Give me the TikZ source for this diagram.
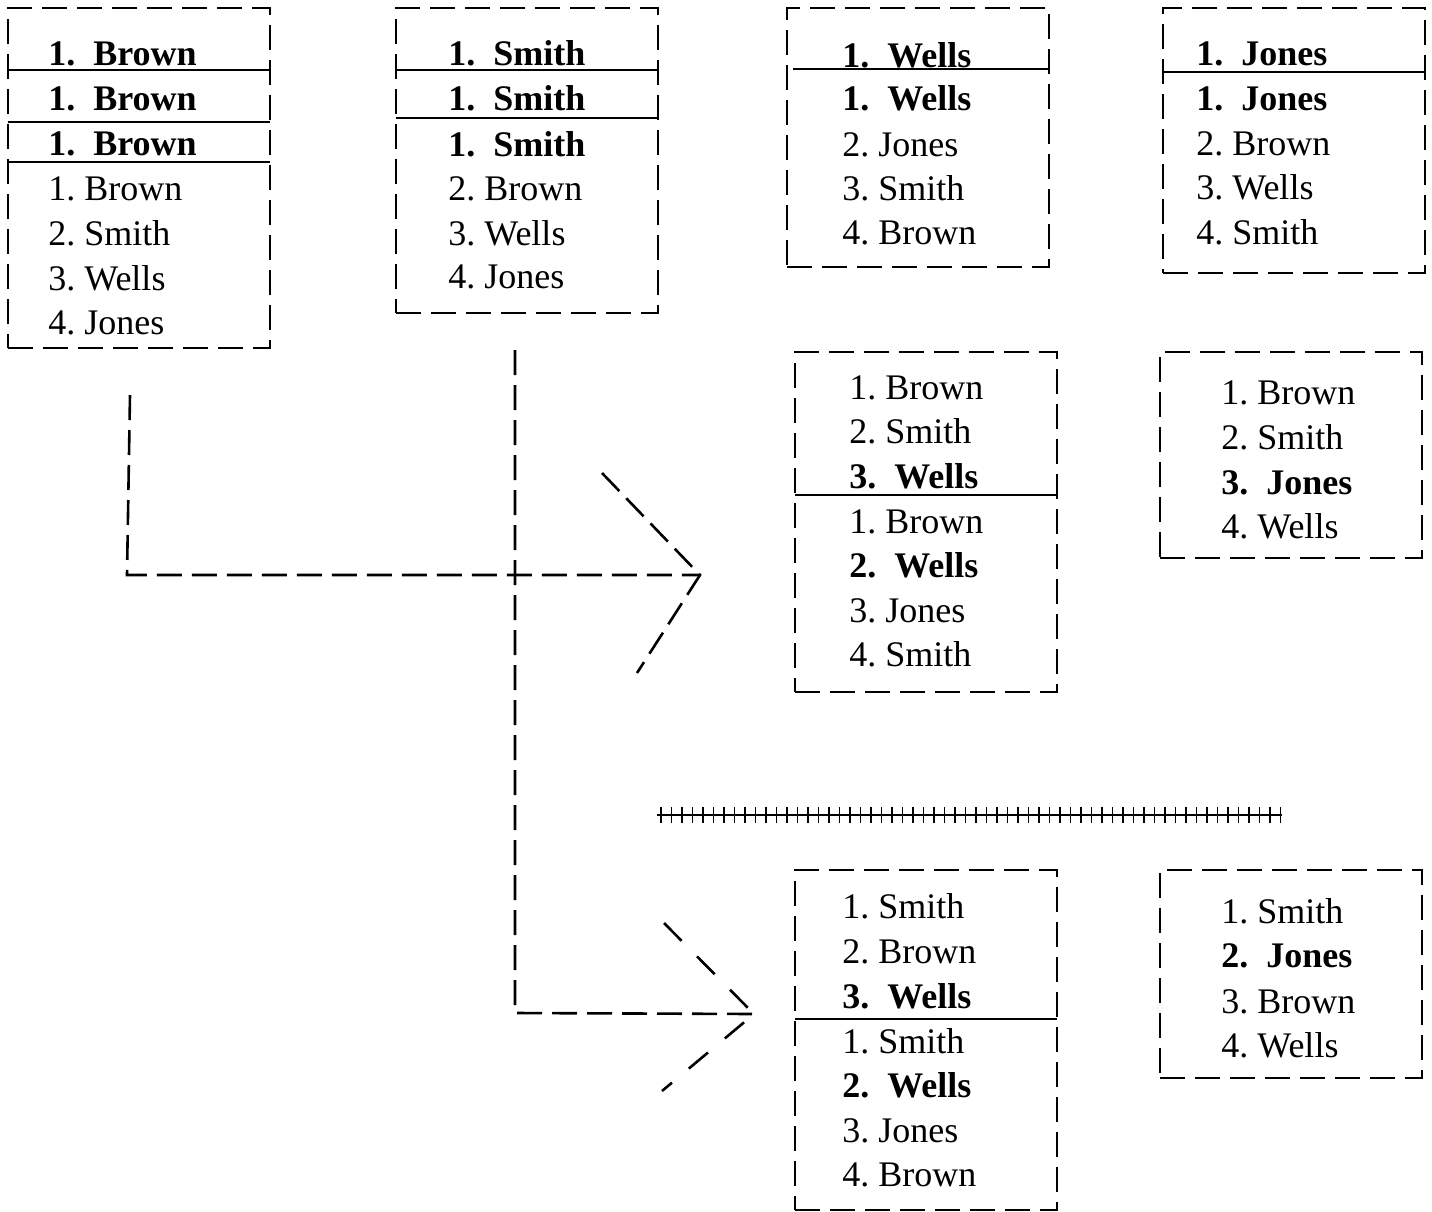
\documentclass[tikz,border=0pt]{standalone}
\usepackage{fontspec}
\setmainfont{Liberation Serif}
\newfontfamily\rankfont{Liberation Serif}
\usetikzlibrary{calc}
\tikzset {
    rank box/.style = {
        draw, rectangle, anchor = north west,
        inner sep = 0pt, outer sep = 0pt,
        minimum width = 131pt,
        line width = 1.3pt,
        dash pattern = on 12.5pt off 5pt
    },
    rank/.style = {
        anchor = base west, inner sep = 0pt,
        font = \rankfont\fontsize{18}{22}\selectfont\frenchspacing
    },
    split/.style = {line width = 1.2pt},
    flow/.style = {line width = 1.3pt, dash pattern = on 12.5pt off 5pt},
    sparse flow/.style = {line width = 1.3pt, dash pattern = on 12.5pt off 11pt},
    rule/.style = {line width = 1.2pt},
    rule tick/.style = {line width = 0.9pt}
}

\begin{document}
\begin{tikzpicture}[x = 0.5pt, y = -0.5pt]
    \useasboundingbox (0, 0) rectangle (1432, 1212);
    % boxes
    \node (b1) [rank box, minimum height = 170pt] at (8, 8) {};
    \node (b2) [rank box, minimum height = 152.5pt] at (396, 8) {};
    \node (b3) [rank box, minimum height = 129.5pt] at (787, 8) {};
    \node (b4) [rank box, minimum height = 132.5pt] at (1163, 8) {};
    \node (b5) [rank box, minimum height = 170pt] at (795, 352) {};
    \node (b6) [rank box, minimum height = 103pt] at (1160, 352) {};
    \node (b7) [rank box, minimum height = 170pt] at (795, 870) {};
    \node (b8) [rank box, minimum height = 104pt] at (1160, 870) {};
    % rankings
    \foreach \y/\t [count = \i] in {65/\textbf{1.~ Brown}, 110/\textbf{1.~ Brown},
            155/\textbf{1.~ Brown}, 200/1. Brown, 245/2. Smith, 290/3. Wells, 334/4. Jones}
        \node (b1-\i) [rank] at (48, \y) {\t};
    \foreach \y/\t [count = \i] in {65/\textbf{1.~ Smith}, 110/\textbf{1.~ Smith},
            156/\textbf{1.~ Smith}, 200/2. Brown, 245/3. Wells, 288/4. Jones}
        \node (b2-\i) [rank] at (448, \y) {\t};
    \foreach \y/\t [count = \i] in {67/\textbf{1.~ Wells}, 110/\textbf{1.~ Wells},
            156/2. Jones, 200/3. Smith, 244/4. Brown}
        \node (b3-\i) [rank] at (842, \y) {\t};
    \foreach \y/\t [count = \i] in {65/\textbf{1.~ Jones}, 110/\textbf{1.~ Jones},
            155/2. Brown, 199/3. Wells, 244/4. Smith}
        \node (b4-\i) [rank] at (1196, \y) {\t};
    \foreach \y/\t [count = \i] in {399/1. Brown, 443/2. Smith, 488/\textbf{3.~ Wells},
            533/1. Brown, 577/\textbf{2.~ Wells}, 622/3. Jones, 666/4. Smith}
        \node (b5-\i) [rank] at (849, \y) {\t};
    \foreach \y/\t [count = \i] in {404/1. Brown, 449/2. Smith, 494/\textbf{3.~ Jones},
            538/4. Wells}
        \node (b6-\i) [rank] at (1221, \y) {\t};
    \foreach \y/\t [count = \i] in {918/1. Smith, 963/2. Brown, 1008/\textbf{3.~ Wells},
            1053/1. Smith, 1097/\textbf{2.~ Wells}, 1142/3. Jones, 1186/4. Brown}
        \node (b7-\i) [rank] at (842, \y) {\t};
    \foreach \y/\t [count = \i] in {923/1. Smith, 967/\textbf{2.~ Jones},
            1013/3. Brown, 1057/4. Wells}
        \node (b8-\i) [rank] at (1221, \y) {\t};
    % splits
    \draw [split] (b1.north west) ++(0, 62) -- ++(262, 0);
    \draw [split] (b1.north west) ++(0, 114) -- ++(262, 0);
    \draw [split] (b1.north west) ++(0, 154) -- ++(262, 0);
    \draw [split] (b2.north west) ++(0, 62) -- ++(262, 0);
    \draw [split] (b2.north west) ++(0, 110) -- ++(262, 0);
    \draw [split] (b3.north west) ++(6, 61) -- ++(256, 0);
    \draw [split] (b4.north west) ++(0, 64) -- ++(262, 0);
    \draw [split] (b5.north west) ++(0, 143) -- ++(262, 0);
    \draw [split] (b7.north west) ++(0, 149) -- ++(262, 0);
    % first merge
    \coordinate (a start) at (130, 395);
    \coordinate (a bend) at (127, 575);
    \coordinate (a tip) at (700, 575);
    \coordinate (a upper) at (602, 473);
    \coordinate (a lower) at (637, 673);
    \draw [flow] (a start) -- (a bend) -- (a tip);
    \draw [flow] (a upper) -- (a tip) -- (a lower);
    % second merge
    \coordinate (c start) at (515, 350);
    \coordinate (c bend) at (515, 1013);
    \coordinate (c tip) at (754, 1014);
    \coordinate (c upper) at (664, 923);
    \coordinate (c lower) at (662, 1091);
    \draw [flow] (c start) -- (c bend) -- (c tip);
    \draw [sparse flow] (c upper) -- (c tip) -- (c lower);
    % hatched rule
    \coordinate (rule l) at (657, 815);
    \coordinate (rule r) at (1282, 815);
    \draw [rule] (rule l) -- (rule r);
    \foreach \k in {0, ..., 59}
        \draw [rule tick] ($(rule l) + (4 + \k * 10.5, -8)$) -- ++(0, 16);
\end{tikzpicture}
\end{document}
